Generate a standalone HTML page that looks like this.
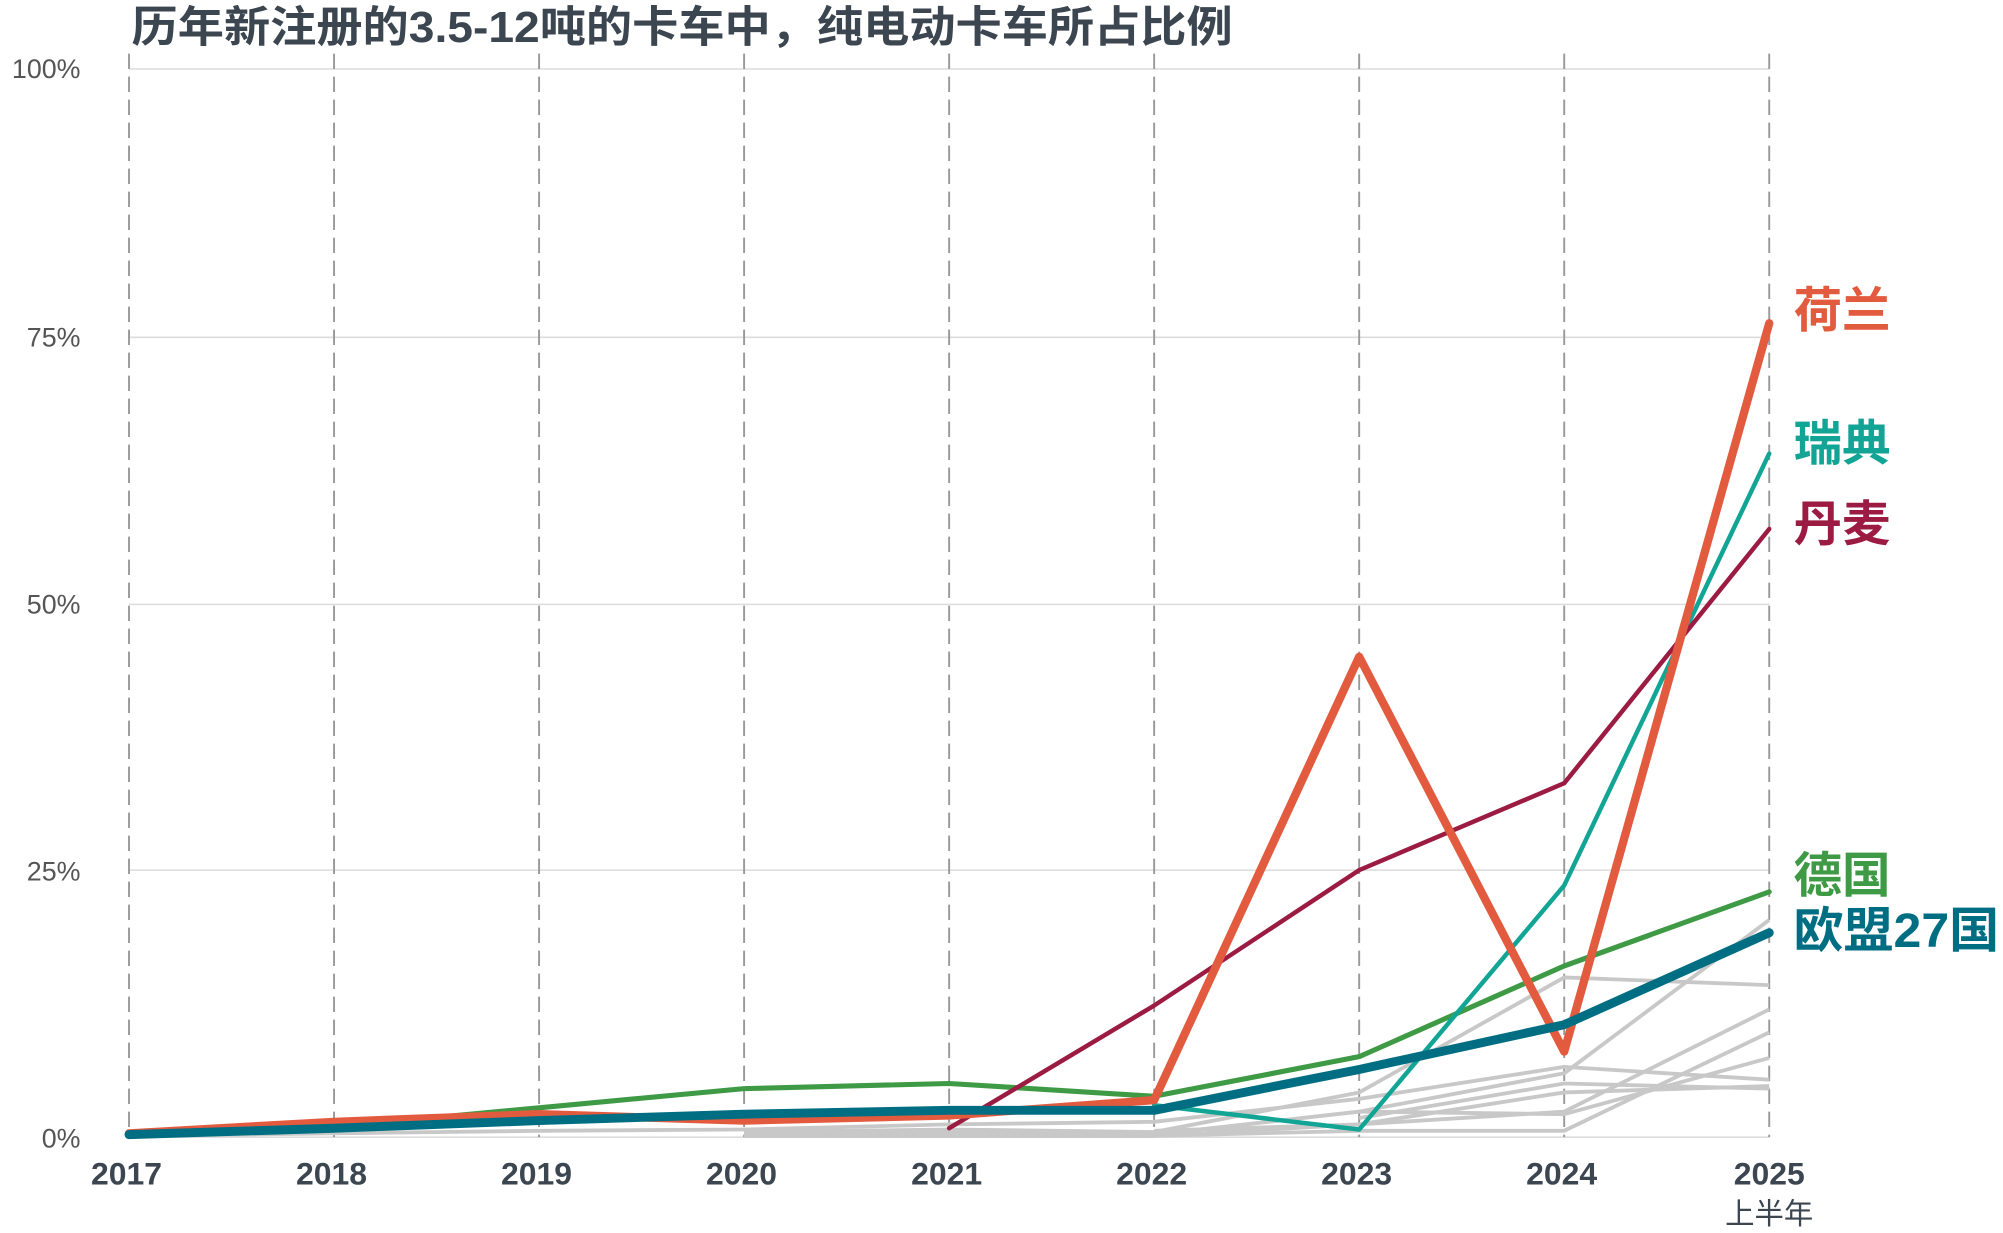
<!DOCTYPE html>
<html><head><meta charset="utf-8"><style>
html,body{margin:0;padding:0;background:#fff;}
svg{display:block;}
text{font-family:"Liberation Sans","Noto Sans CJK SC",sans-serif;}
</style></head><body>
<svg width="2003" height="1233" viewBox="0 0 1568 965" preserveAspectRatio="none" xmlns="http://www.w3.org/2000/svg">
<text x="103" y="33" font-size="34" font-weight="bold" fill="#3c4650" textLength="862" lengthAdjust="spacingAndGlyphs">历年新注册的3.5-12吨的卡车中，纯电动卡车所占比例</text>
<g stroke="#dcdcdc" stroke-width="1.2">
<line x1="101" y1="54" x2="1385" y2="54"/><line x1="101" y1="264" x2="1385" y2="264"/>
<line x1="101" y1="473" x2="1385" y2="473"/><line x1="101" y1="681" x2="1385" y2="681"/>
<line x1="101" y1="890" x2="1385" y2="890"/></g>
<g stroke="#999" stroke-width="1.5" stroke-dasharray="12,6">
<line x1="101" y1="42" x2="101" y2="890"/><line x1="261.5" y1="42" x2="261.5" y2="890"/>
<line x1="422" y1="42" x2="422" y2="890"/><line x1="582.5" y1="42" x2="582.5" y2="890"/>
<line x1="743" y1="42" x2="743" y2="890"/><line x1="903.5" y1="42" x2="903.5" y2="890"/>
<line x1="1064" y1="42" x2="1064" y2="890"/><line x1="1224.5" y1="42" x2="1224.5" y2="890"/>
<line x1="1385" y1="42" x2="1385" y2="890"/></g>
<g font-size="21" fill="#555" text-anchor="end">
<text x="63" y="61">100%</text><text x="63" y="271">75%</text><text x="63" y="480">50%</text>
<text x="63" y="689">25%</text><text x="63" y="898">0%</text></g>
<g font-size="25" font-weight="bold" fill="#3c4650" text-anchor="middle">
<text x="99" y="927">2017</text><text x="259.5" y="927">2018</text><text x="420" y="927">2019</text>
<text x="580.5" y="927">2020</text><text x="741" y="927">2021</text><text x="901.5" y="927">2022</text>
<text x="1062" y="927">2023</text><text x="1222.5" y="927">2024</text><text x="1385" y="927">2025</text>
<text x="1385" y="958" font-weight="normal" font-size="23">上半年</text></g>
<g fill="none" stroke="#c8c8c8" stroke-width="3" stroke-linejoin="round">
<polyline points="582.5,888 743,886 903.5,888 1064,870 1224.5,840 1385,720"/>
<polyline points="582.5,886 743,884 903.5,886 1064,855 1224.5,765 1385,771"/>
<polyline points="582.5,889 743,889 903.5,889 1064,880 1224.5,870 1385,790"/>
<polyline points="582.5,889 743,889 903.5,889 1064,885 1224.5,885 1385,808"/>
<polyline points="101,889 422,885 582.5,884 743,880 903.5,878 1064,860 1224.5,835 1385,845"/>
<polyline points="903.5,885 1064,880 1224.5,855 1385,850"/>
<polyline points="903.5,888 1064,870 1224.5,872 1385,828"/>
<polyline points="1064,875 1224.5,848 1385,852"/>
</g>
<g fill="none" stroke-linejoin="round" stroke-linecap="round">
<polyline stroke="#3f9a45" stroke-width="4" points="101,887 261.5,882 422,867 582.5,852 743,848 903.5,858 1064,827 1224.5,756 1385,698"/>
<polyline stroke="#12a595" stroke-width="3.5" points="903.5,865 1064,884 1224.5,693 1385,355"/>
<polyline stroke="#9b1b42" stroke-width="3.5" points="743,883 903.5,787 1064,681 1224.5,613 1385,414"/>
<polyline stroke="#e35b3f" stroke-width="6.5" points="101,887 261.5,878 422,872 582.5,877 743,873 903.5,861 1064,514 1224.5,823 1385,253"/>
<polyline stroke="#006e82" stroke-width="7" points="101,888 261.5,883 422,877 582.5,872 743,869 903.5,869 1064,837 1224.5,802 1385,730"/>
</g>
<g font-size="38" font-weight="bold">
<text x="1404" y="256" fill="#e35b3f">荷兰</text>
<text x="1404" y="360" fill="#12a595">瑞典</text>
<text x="1404" y="423" fill="#9b1b42">丹麦</text>
<text x="1404" y="698" fill="#3f9a45">德国</text>
<text x="1404" y="741" fill="#006e82" textLength="161" lengthAdjust="spacingAndGlyphs">欧盟27国</text>
</g>
</svg>
</body></html>
